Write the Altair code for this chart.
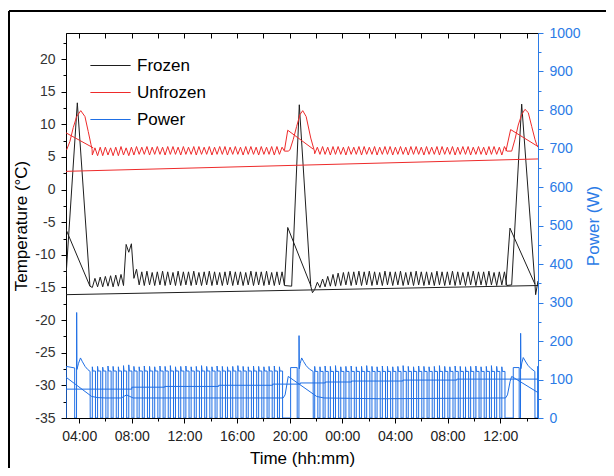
import altair as alt
import pandas as pd

# ---------------- data (hours since day-1 00:00) ----------------
# compressor cycle start times, stretch 1 and stretch 2
cyc1 = [5.00, 5.40, 5.79, 6.19, 6.58, 6.98, 7.37, 7.77, 8.16, 8.56, 8.95, 9.35,
        9.74, 10.14, 10.53, 10.93, 11.32, 11.72, 12.11, 12.51, 12.90, 13.30, 13.69,
        14.09, 14.48, 14.88, 15.27, 15.67, 16.06, 16.46, 16.85, 17.25, 17.64, 18.04,
        18.43, 18.83, 19.22]
cyc2 = [21.90, 22.30, 22.69, 23.09, 23.48, 23.88, 24.27, 24.67, 25.06, 25.46, 25.85,
        26.25, 26.64, 27.04, 27.43, 27.83, 28.22, 28.62, 29.01, 29.41, 29.80, 30.20,
        30.59, 30.99, 31.38, 31.78, 32.17, 32.57, 32.96, 33.36, 33.75, 34.15, 34.54,
        34.94, 35.33, 35.73, 36.12]

# Frozen compartment temperature: cycle highs / lows
fz_hi1 = [-13.6, -13.4, -13.3, -13.2, -13.1, -13.0, -8.4, -8.3, -12.2, -12.6,
          -12.5, -12.7, -12.6, -12.5, -12.6, -12.7, -12.5, -12.6, -12.6, -12.5,
          -12.7, -12.6, -12.5, -12.6, -12.7, -12.6, -12.5, -12.6, -12.6, -12.7,
          -12.5, -12.6, -12.6, -12.5, -12.7, -12.6, -12.6]
fz_lo1 = [-15.0, -14.9, -14.9, -14.8, -14.9, -14.8, -14.7, -9.6, -13.6, -14.6,
          -14.7, -14.6, -14.7, -14.6, -14.7, -14.6, -14.7, -14.7, -14.6, -14.7,
          -14.6, -14.7, -14.6, -14.7, -14.6, -14.7, -14.6, -14.7, -14.6, -14.7,
          -14.6, -14.7, -14.6, -14.7, -14.6, -14.7, -14.6]
fz_hi2 = [-14.2, -13.7, -13.3, -13.0, -12.8, -12.7, -12.6, -12.6, -12.5, -12.6,
          -12.5, -12.6, -12.7, -12.5, -12.6, -12.6, -12.5, -12.7, -12.6, -12.5,
          -12.6, -12.6, -12.7, -12.5, -12.6, -12.6, -12.5, -12.6, -12.7, -12.6,
          -12.5, -12.6, -12.6, -12.5, -12.7, -12.6, -12.6]
fz_lo2 = [-15.3, -15.0, -14.9, -14.8, -14.8, -14.7, -14.6, -14.7, -14.6, -14.7,
          -14.6, -14.7, -14.6, -14.7, -14.6, -14.7, -14.6, -14.7, -14.6, -14.7,
          -14.6, -14.7, -14.6, -14.7, -14.6, -14.7, -14.6, -14.7, -14.6, -14.7,
          -14.6, -14.7, -14.6, -14.7, -14.6, -14.7, -14.6]
# defrost peaks and other frozen traces (hour, degC)
fz_start = [(3.00, -13.3), (3.86, 13.3), (4.82, -14.8)]
fz_mid = [(19.60, -14.7), (20.15, -14.8), (20.73, 13.0), (21.60, -14.8), (21.73, -15.8)]
fz_end = [(36.50, -14.7), (36.87, -14.6), (37.63, 13.1), (38.64, -14.5), (38.69, -16.1), (38.87, -14.0)]
fz_c1 = [(3.00, -6.1), (4.82, -14.8)]
fz_c2 = [(19.60, -14.6), (19.85, -5.8), (21.62, -14.8)]
fz_c3 = [(36.43, -14.6), (36.74, -5.9), (38.64, -14.5)]
fz_wrap = [(3.00, -16.1), (38.87, -14.7)]

# Unfrozen compartment temperature
uf_hi1 = [6.4, 6.5, 6.5, 6.4, 6.5, 6.6, 6.4, 6.5, 6.6, 6.5, 6.6, 6.5, 6.6, 6.5, 6.6,
          6.6, 6.5, 6.6, 6.5, 6.6, 6.6, 6.5, 6.6, 6.5, 6.6, 6.6, 6.5, 6.6, 6.5, 6.6,
          6.6, 6.5, 6.6, 6.5, 6.6, 6.6, 6.5]
uf_lo1 = [5.3, 5.2, 5.2, 5.3, 5.2, 5.2, 5.3, 5.2, 5.3, 5.4, 5.4, 5.3, 5.4, 5.4, 5.3,
          5.4, 5.4, 5.3, 5.4, 5.4, 5.3, 5.4, 5.4, 5.3, 5.4, 5.4, 5.3, 5.4, 5.4, 5.3,
          5.4, 5.4, 5.3, 5.4, 5.4, 5.3, 5.4]
uf_hi2 = [6.5, 6.6, 6.5, 6.6, 6.6, 6.5, 6.6, 6.5, 6.6, 6.6, 6.5, 6.6, 6.5, 6.6, 6.6,
          6.5, 6.6, 6.5, 6.6, 6.6, 6.5, 6.6, 6.5, 6.6, 6.6, 6.5, 6.6, 6.5, 6.6, 6.6,
          6.5, 6.6, 6.5, 6.6, 6.6, 6.5, 6.6]
uf_lo2 = [5.5, 5.4, 5.4, 5.3, 5.4, 5.4, 5.3, 5.4, 5.4, 5.3, 5.4, 5.4, 5.3, 5.4, 5.4,
          5.3, 5.4, 5.4, 5.3, 5.4, 5.4, 5.3, 5.4, 5.4, 5.3, 5.4, 5.4, 5.3, 5.4, 5.4,
          5.3, 5.4, 5.4, 5.3, 5.4, 5.4, 5.3]
uf_start = [(3.05, 6.1), (3.30, 7.4), (3.55, 9.5), (3.81, 11.2), (4.12, 12.1),
            (4.44, 11.2), (4.69, 8.9), (4.90, 6.9), (4.98, 6.2)]
uf_mid = [(19.60, 5.9), (19.89, 5.9), (20.02, 6.1), (20.27, 7.7), (20.53, 9.7),
          (20.78, 11.5), (20.99, 12.1), (21.25, 11.2), (21.60, 7.9), (21.88, 5.9)]
uf_end = [(36.50, 5.9), (36.87, 5.9), (37.12, 7.7), (37.37, 9.9), (37.63, 11.5),
          (37.88, 12.3), (38.13, 11.8), (38.39, 9.7), (38.64, 7.7), (38.77, 6.9), (38.87, 6.5)]
uf_c1 = [(3.00, 8.7), (5.07, 6.4)]
uf_c2 = [(19.60, 6.0), (19.85, 9.1), (21.79, 6.2)]
uf_c3 = [(36.43, 5.9), (36.79, 9.2), (38.87, 6.6)]
uf_wrap = [(3.00, 2.8), (38.87, 4.7)]

# Power: pulse peaks per cycle and plateau levels
pw_pk1 = [133, 134, 132, 135, 134, 133, 136, 138, 134, 133, 135, 134, 133, 135, 134,
          136, 133, 134, 135, 133, 134, 136, 134, 133, 135, 134, 133, 134, 136, 134,
          133, 135, 134, 133, 134, 135, 133]
pw_pk2 = [134, 133, 135, 134, 136, 133, 134, 135, 133, 134, 136, 134, 133, 135, 134,
          133, 134, 136, 134, 133, 135, 134, 133, 134, 136, 134, 133, 135, 134, 133,
          134, 135, 133, 134, 136, 134, 133]
pw_plat = [122, 121]
pw_start = [(3.02, 0), (3.02, 134), (3.66, 130), (3.66, 0), (3.80, 0), (3.81, 274),
            (3.83, 126), (3.95, 142), (4.10, 156), (4.25, 146), (4.45, 134),
            (4.65, 126), (4.83, 121), (4.84, 0)]
pw_mid = [(20.07, 0), (20.07, 131), (20.57, 131), (20.57, 0), (20.70, 0), (20.71, 214),
          (20.73, 128), (20.80, 142), (20.91, 156), (21.05, 147), (21.25, 136),
          (21.50, 127), (21.78, 121), (21.79, 0)]
pw_end = [(36.99, 0), (36.99, 131), (37.44, 131), (37.44, 0), (37.54, 0), (37.55, 220),
          (37.57, 128), (37.64, 143), (37.75, 157), (37.90, 148), (38.10, 137),
          (38.35, 128), (38.63, 121), (38.64, 0), (38.84, 0), (38.84, 134), (38.87, 131)]
pw_decay = [(3.00, 106), (4.95, 56), (5.40, 53), (6.00, 52), (7.20, 52), (7.45, 57),
            (7.60, 60), (7.85, 56), (8.10, 52), (19.50, 52), (19.65, 60), (19.80, 90),
            (19.89, 108), (22.05, 56), (22.60, 52), (27.00, 50), (31.00, 51),
            (36.40, 52), (36.55, 60), (36.75, 95), (36.87, 108), (38.87, 66)]
pw_wrap = [(3.00, 75), (8.00, 75), (8.00, 80), (10.50, 80), (10.50, 82), (14.60, 82),
           (14.60, 85), (18.70, 85), (18.70, 88), (20.80, 88), (20.80, 91), (22.70, 91),
           (22.70, 93.5), (24.70, 93.5), (24.70, 96), (28.60, 96), (28.60, 98.5),
           (32.70, 98.5), (32.70, 101), (38.87, 101)]

series_names = ["Frozen", "Unfrozen", "Power"]
series_colors = ["#1e1e1e", "#ee2b2b", "#1f6fe5"]
axis_blue = "#2b7be6"
FONT = "Liberation Sans"

# ---------------- build tables ----------------
rows = []


def add(series, seg, pts):
    for h, v in pts:
        rows.append({"h": h, "v": v, "series": series, "seg": seg, "ord": len(rows)})


def teeth(times, lows, highs):
    pts = []
    for t, lo, hi in zip(times, lows, highs):
        pts += [(t, lo), (t + 0.2, hi)]
    return pts


def pulses(times, peaks, plat):
    pts = []
    for t, pk in zip(times, peaks):
        pts += [(t, 0), (t, pk), (t + 0.04, plat), (t + 0.24, plat), (t + 0.24, 0)]
    return pts


add("Frozen", "f_main", fz_start + teeth(cyc1, fz_lo1, fz_hi1) + fz_mid
    + teeth(cyc2, fz_lo2, fz_hi2) + fz_end)
add("Frozen", "f_c1", fz_c1)
add("Frozen", "f_c2", fz_c2)
add("Frozen", "f_c3", fz_c3)
add("Frozen", "f_wrap", fz_wrap)
add("Unfrozen", "u_main", uf_start + teeth(cyc1, uf_lo1, uf_hi1) + uf_mid
    + teeth(cyc2, uf_lo2, uf_hi2) + uf_end)
add("Unfrozen", "u_c1", uf_c1)
add("Unfrozen", "u_c2", uf_c2)
add("Unfrozen", "u_c3", uf_c3)
add("Unfrozen", "u_wrap", uf_wrap)
temp_df = pd.DataFrame(rows)

rows = []
add("Power", "p_main", pw_start + pulses(cyc1, pw_pk1, pw_plat[0]) + pw_mid
    + pulses(cyc2, pw_pk2, pw_plat[1]) + pw_end)
add("Power", "p_decay", pw_decay)
add("Power", "p_wrap", pw_wrap)
pow_df = pd.DataFrame(rows)

# ---------------- chart ----------------
W, H = 472, 385
xscale = alt.Scale(domain=[3, 38.87], nice=False, zero=False)
color = alt.Color("series:N",
                  scale=alt.Scale(domain=series_names, range=series_colors),
                  legend=alt.Legend(orient="none", legendX=26, legendY=14, title=None,
                                    symbolType="M-1.15,0H1.15", symbolSize=1225,
                                    symbolStrokeWidth=1.2, labelFontSize=17,
                                    labelFont=FONT, labelColor="black", labelOffset=8,
                                    rowPadding=0, padding=0, labelLimit=200))
xticks = list(range(4, 39, 2))

x_bottom = alt.X("h:Q", scale=xscale, axis=alt.Axis(
    orient="bottom", values=xticks, title="Time (hh:mm)",
    labelExpr="datum.value % 4 == 0 ? ((datum.value % 24 < 10 ? '0' : '') + (datum.value % 24) + ':00') : ''",
    tickSize={"condition": {"test": "datum.value % 4 == 0", "value": 5}, "value": 3},
    labelPadding=6, titlePadding=7, labelColor="#222", labelFlush=False))
x_top = alt.X("h:Q", scale=xscale, axis=alt.Axis(
    orient="top", values=xticks, labels=False, domain=False, title=None,
    tickSize=5, offset=-5, tickColor="black"))

temp = alt.Chart(temp_df).mark_line(strokeWidth=1, clip=True).encode(
    x=x_bottom,
    y=alt.Y("v:Q", scale=alt.Scale(domain=[-35, 24], nice=False, zero=False),
            axis=alt.Axis(orient="left", values=[k / 2 for k in range(-70, 46, 5)],
                          labelExpr="datum.value % 5 == 0 ? '' + datum.value : ''",
                          tickSize={"condition": {"test": "datum.value % 5 == 0", "value": 5}, "value": 3},
                          title="Temperature (°C)", labelPadding=6, titlePadding=4,
                          labelColor="#333")),
    color=color, detail="seg:N", order="ord:Q")

power = alt.Chart(pow_df).mark_line(strokeWidth=1, clip=True).encode(
    x=x_top,
    y=alt.Y("v:Q", scale=alt.Scale(domain=[0, 1000], nice=False),
            axis=alt.Axis(orient="right", values=list(range(0, 1001, 50)),
                          labelExpr="datum.value % 100 == 0 ? '' + datum.value : ''",
                          tickSize={"condition": {"test": "datum.value % 100 == 0", "value": 5}, "value": 3},
                          title="Power (W)", titleAngle=270, titleBaseline="top",
                          labelPadding=6, titlePadding=5,
                          labelColor=axis_blue, tickColor=axis_blue, domainColor=axis_blue,
                          titleColor=axis_blue)),
    color=alt.Color("series:N", scale=alt.Scale(domain=series_names, range=series_colors)),
    detail="seg:N", order="ord:Q")

one = pd.DataFrame({"k": [0]})
frame_top = alt.Chart(one).mark_rule(stroke="black", strokeWidth=2).encode(
    x=alt.value(-57), x2=alt.value(W + 200), y=alt.value(-22))
frame_left = alt.Chart(one).mark_rule(stroke="black", strokeWidth=2).encode(
    x=alt.value(-57), y=alt.value(-22), y2=alt.value(H + 60))

chart = alt.layer(temp, power, frame_top, frame_left).resolve_scale(y="independent").resolve_axis(
    x="independent", y="independent").properties(
    width=W, height=H,
    autosize=alt.AutoSizeParams(type="none"),
    padding={"left": 58, "top": 25, "right": 68, "bottom": 50},
).configure_view(stroke="black", strokeWidth=1).configure_axis(
    labelFont=FONT, titleFont=FONT, labelFontSize=14, titleFontSize=17,
    titleFontWeight="normal", titleColor="black", tickColor="black",
    domainColor="black", grid=False)

chart.save("out.html", embed_options={"renderer": "svg", "actions": False})
